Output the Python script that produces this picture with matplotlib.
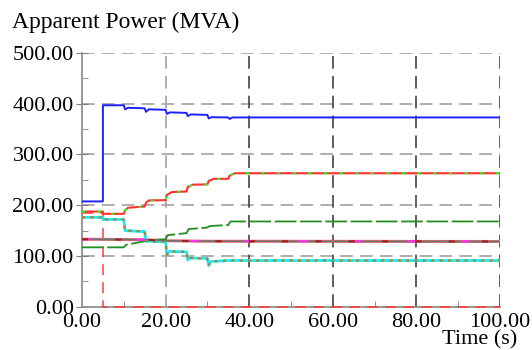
import matplotlib
matplotlib.use('Agg')
import matplotlib.pyplot as plt
from matplotlib.ticker import MultipleLocator, FormatStrFormatter

plt.rcParams['font.family'] = ['Liberation Serif', 'DejaVu Serif']

# Donnees (temps en s, puissance apparente en MVA)
t_bleu = [0, 5, 5, 10, 10.3, 11, 15, 15.3, 16, 20, 20.3, 21, 25, 25.3, 26, 30, 30.3, 31, 35, 35.3, 36, 100]
s_bleu = [207.5, 207.5, 397, 397, 389, 392, 391, 384, 389, 388, 380, 383, 382, 375.5, 379, 378, 371, 373.5, 373, 370, 373, 373]

t_rouge = [0, 5, 5, 10, 10.3, 11, 15, 15.3, 16, 20, 20.3, 21.5, 25, 25.3, 26.5, 30, 30.3, 31.5, 35, 35.3, 36.5, 100]
s_rouge = [187.5, 187.5, 183, 183, 190, 195, 197.5, 205, 209.5, 210, 220, 226, 227, 236, 240.5, 241, 248, 252, 252, 258, 263, 263]

t_vert = [0, 10, 10.5, 15, 15.5, 20, 20.5, 25, 25.5, 30, 30.5, 35, 35.5, 100]
s_vert = [117, 117, 122, 129, 131, 133, 141, 145, 153, 156, 159, 161, 168, 168]

t_cyan = [0, 5, 5, 10, 10.3, 15, 15.3, 20, 20.3, 20.8, 25, 25.3, 25.8, 30, 30.3, 30.8, 35, 100]
s_cyan = [176, 176, 172, 172, 150, 148, 129, 128, 102, 109, 108, 92, 96, 95, 81, 89, 91, 91]

t_gris = [0, 15, 20, 30, 100]
s_gris = [133, 132, 130, 129, 128.5]

t_coupe = [0, 5, 5, 100]
s_coupe = [184, 184, 0, 0]

xticks = [0, 20, 40, 60, 80, 100]
yticks = [0, 100, 200, 300, 400, 500]

fig = plt.figure(figsize=(5.32, 3.5), dpi=100)
ax = fig.add_axes([82 / 532, 43.3 / 350, 418 / 532, 253.7 / 350])

# grille
for y in yticks[1:]:
    ax.axhline(y, color='#a8a8a8', lw=1.3, dashes=(7, 4), zorder=1)
for x in xticks[1:]:
    c = '#a8a8a8' if x == 20 else '#505050'
    ax.axvline(x, color=c, lw=1.3, dashes=(7, 4), zorder=1)

# courbes
ax.plot(t_coupe, s_coupe, color='#ff3030', lw=1.3, dashes=(6, 4), zorder=3, clip_on=False, alpha=0.8)
ax.plot(t_gris, s_gris, color='#e07070', lw=2.2, zorder=3)
ax.plot(t_gris, s_gris, color='#707070', lw=1.1, zorder=4)
ax.plot(t_gris, s_gris, color='#ff30ff', lw=1.5, dashes=(4, 22), zorder=5)
ax.plot(t_gris, s_gris, color='#a02020', lw=1.5, dashes=(3, 13), zorder=5)
ax.plot(t_vert, s_vert, color='#209020', lw=1.3, dashes=(12, 2), zorder=3)
ax.plot(t_cyan, s_cyan, color='#20e8f0', lw=2.0, zorder=3)
ax.plot(t_cyan, s_cyan, color='#b08020', lw=1.5, dashes=(1.5, 2.5), zorder=4)
ax.plot(t_rouge, s_rouge, color='#ff3030', lw=1.5, zorder=3)
ax.plot(t_rouge, s_rouge, color='#20ff20', lw=1.5, dashes=(1.5, 6), zorder=4)
ax.plot(t_bleu, s_bleu, color='#2020ff', lw=1.4, zorder=6)

ax.set_xlim(0, 100)
ax.set_ylim(0, 500)
ax.set_xticks(xticks)
ax.set_yticks(yticks)
ax.xaxis.set_minor_locator(MultipleLocator(10))
ax.yaxis.set_minor_locator(MultipleLocator(50))
ax.xaxis.set_major_formatter(FormatStrFormatter('%.2f'))
ax.yaxis.set_major_formatter(FormatStrFormatter('%.2f'))
ax.tick_params(axis='both', which='major', labelsize=16, colors='#808080', labelcolor='black')
ax.tick_params(axis='y', which='major', direction='inout', length=8, pad=2)
ax.tick_params(axis='y', which='minor', direction='in', length=4, color='#808080')
ax.tick_params(axis='x', which='major', direction='in', length=0, pad=4.5)
ax.tick_params(axis='x', which='minor', direction='in', length=4, color='#808080')
for lab in ax.get_yticklabels():
    lab.set_verticalalignment('center_baseline')

for s in ['top', 'right']:
    ax.spines[s].set_visible(False)
for s in ['left', 'bottom']:
    ax.spines[s].set_color('#909090')
    ax.spines[s].set_linewidth(1.3)

fig.text(12 / 532, 1 - 22 / 350, 'Apparent Power (MVA)', fontsize=17, va='center', ha='left')
fig.text(517 / 532, 1 - 349 / 350, 'Time (s)', fontsize=16, va='bottom', ha='right')

fig.savefig('out.png', dpi=100)
